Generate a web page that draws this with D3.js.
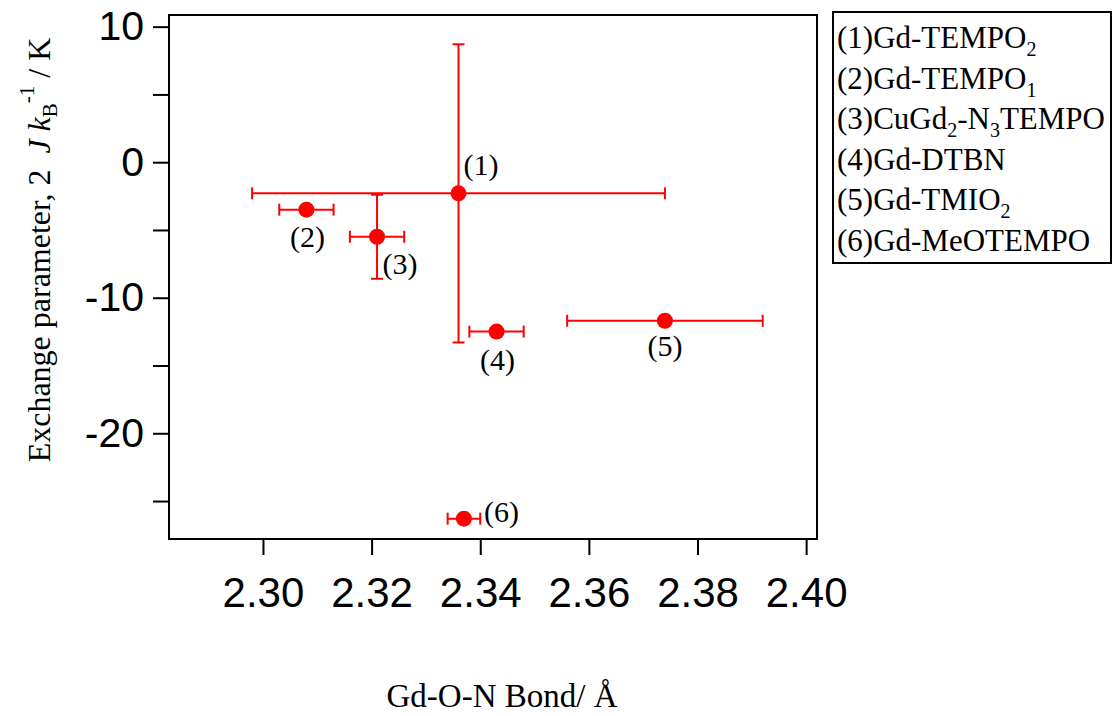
<!DOCTYPE html>
<html>
<head>
<meta charset="utf-8">
<script src="https://cdn.jsdelivr.net/npm/d3@7"></script>
<style>
  body { margin: 0; background: #fff; }
  svg { display: block; }
</style>
</head>
<body>
<svg id="chart" width="1115" height="716"></svg>
<script>
// Data
const pointLabels = ['(1)', '(2)', '(3)', '(4)', '(5)', '(6)'];
const bondLength = [2.336, 2.308, 2.321, 2.343, 2.374, 2.337];
const exchangeJ = [-2.3, -3.5, -5.5, -12.5, -11.7, -26.3];
const bondErr = [0.038, 0.005, 0.005, 0.005, 0.018, 0.003];
const exchangeErr = [11.0, 0, 3.1, 0, 0, 0];

const xTicks = [2.30, 2.32, 2.34, 2.36, 2.38, 2.40];
const yMajorTicks = [10, 0, -10, -20];
const yMinorTicks = [5, -5, -15, -25];

// legend rows: [text, subscript] pieces
const legendRows = [
    [['(1)Gd-TEMPO', ''], ['2', 'sub']],
    [['(2)Gd-TEMPO', ''], ['1', 'sub']],
    [['(3)CuGd', ''], ['2', 'sub'], ['-N', ''], ['3', 'sub'], ['TEMPO', '']],
    [['(4)Gd-DTBN', '']],
    [['(5)Gd-TMIO', ''], ['2', 'sub']],
    [['(6)Gd-MeOTEMPO', '']]
];

// label placement relative to each point (anchor, dx, dy)
const labelPlace = [
    ['start', 5, -18],
    ['middle', 1, 37],
    ['middle', 23, 37],
    ['middle', 1, 38],
    ['middle', 0, 35],
    ['start', 20, 3]
];

const plot = { left: 169, right: 817, top: 15, bottom: 539 };
const red = '#ff0000';
const serif = '"Liberation Serif", "Times New Roman", serif';
const sans = '"Liberation Sans", Arial, sans-serif';

const svg = d3.select('#chart');

const x = d3.scaleLinear()
    .domain([2.2827, 2.402])
    .range([plot.left, plot.right]);

const y = d3.scaleLinear()
    .domain([-27.8, 10.86])
    .range([plot.bottom, plot.top]);

// Frame
svg.append('rect')
    .attr('x', plot.left)
    .attr('y', plot.top)
    .attr('width', plot.right - plot.left)
    .attr('height', plot.bottom - plot.top)
    .style('fill', 'none')
    .style('stroke', '#000')
    .style('stroke-width', 2);

// X axis
const xAxis = svg.append('g')
    .attr('transform', `translate(0,${plot.bottom})`)
    .call(d3.axisBottom(x).tickValues(xTicks).tickSize(16).tickPadding(22).tickFormat(d3.format('.2f')));
xAxis.select('.domain').remove();
xAxis.selectAll('line').style('stroke', '#000').style('stroke-width', 2);
xAxis.selectAll('text')
    .style('font-family', sans)
    .style('font-size', '42px')
    .style('fill', '#000');

// Y axis (plain hyphen for negatives, like the original)
const yAxis = svg.append('g')
    .attr('transform', `translate(${plot.left},0)`)
    .call(d3.axisLeft(y).tickValues(yMajorTicks).tickSize(16).tickPadding(9).tickFormat(d => String(d)));
yAxis.select('.domain').remove();
yAxis.selectAll('line').style('stroke', '#000').style('stroke-width', 2);
yAxis.selectAll('text')
    .style('font-family', sans)
    .style('font-size', '41px')
    .style('fill', '#000');

const yMinor = svg.append('g')
    .attr('transform', `translate(${plot.left},0)`)
    .call(d3.axisLeft(y).tickValues(yMinorTicks).tickSize(16).tickFormat(''));
yMinor.select('.domain').remove();
yMinor.selectAll('line').style('stroke', '#000').style('stroke-width', 2);

// Axis titles
svg.append('text')
    .attr('x', 502)
    .attr('y', 707)
    .attr('text-anchor', 'middle')
    .style('font-family', serif)
    .style('font-size', '33px')
    .text('Gd-O-N Bond/ Å');

const yTitle = svg.append('text')
    .attr('transform', 'translate(50,250) rotate(-90)')
    .attr('text-anchor', 'middle')
    .style('font-family', serif)
    .style('font-size', '32px');
yTitle.append('tspan').text('Exchange parameter, 2\u00a0\u00a0');
yTitle.append('tspan').style('font-style', 'italic').text('J');
yTitle.append('tspan').text(' ');
yTitle.append('tspan').style('font-style', 'italic').text('k');
yTitle.append('tspan').attr('dy', 7).style('font-size', '21px').text('B');
yTitle.append('tspan').attr('dy', -23).style('font-size', '21px').text('-1');
yTitle.append('tspan').attr('dy', 16).text(' / K');

// Error bars
const cap = 6;
const pts = bondLength.map((b, i) => ({
    x: b, y: exchangeJ[i], ex: bondErr[i], ey: exchangeErr[i], label: pointLabels[i], place: labelPlace[i]
}));

const errG = svg.append('g')
    .style('stroke', red)
    .style('stroke-width', 2)
    .style('fill', 'none');

pts.forEach(p => {
    if (p.ex > 0) {
        const x0 = x(p.x - p.ex), x1 = x(p.x + p.ex), yy = y(p.y);
        errG.append('line').attr('x1', x0).attr('x2', x1).attr('y1', yy).attr('y2', yy);
        errG.append('line').attr('x1', x0).attr('x2', x0).attr('y1', yy - cap).attr('y2', yy + cap);
        errG.append('line').attr('x1', x1).attr('x2', x1).attr('y1', yy - cap).attr('y2', yy + cap);
    }
    if (p.ey > 0) {
        const y0 = y(p.y + p.ey), y1 = y(p.y - p.ey), xx = x(p.x);
        errG.append('line').attr('x1', xx).attr('x2', xx).attr('y1', y0).attr('y2', y1);
        errG.append('line').attr('x1', xx - cap).attr('x2', xx + cap).attr('y1', y0).attr('y2', y0);
        errG.append('line').attr('x1', xx - cap).attr('x2', xx + cap).attr('y1', y1).attr('y2', y1);
    }
});

// Points
svg.append('g')
    .selectAll('circle')
    .data(pts)
    .join('circle')
    .attr('cx', d => x(d.x))
    .attr('cy', d => y(d.y))
    .attr('r', 8)
    .style('fill', red);

// Point labels
svg.append('g')
    .selectAll('text')
    .data(pts)
    .join('text')
    .attr('x', d => x(d.x) + d.place[1])
    .attr('y', d => y(d.y) + d.place[2])
    .attr('text-anchor', d => d.place[0])
    .style('font-family', serif)
    .style('font-size', '30px')
    .text(d => d.label);

// Legend
const legend = svg.append('g');
legend.append('rect')
    .attr('x', 833)
    .attr('y', 12)
    .attr('width', 278)
    .attr('height', 251)
    .style('fill', '#fff')
    .style('stroke', '#000')
    .style('stroke-width', 2);

legendRows.forEach((row, i) => {
    const t = legend.append('text')
        .attr('x', 837)
        .attr('y', 48 + i * 40.5)
        .style('font-family', serif)
        .style('font-size', '31px');
    let shifted = false;
    row.forEach(([s, kind]) => {
        const ts = t.append('tspan').text(s);
        if (kind === 'sub') {
            ts.attr('dy', shifted ? 0 : 8).style('font-size', '20px');
            shifted = true;
        } else if (shifted) {
            ts.attr('dy', -8);
            shifted = false;
        }
    });
});
</script>
</body>
</html>
